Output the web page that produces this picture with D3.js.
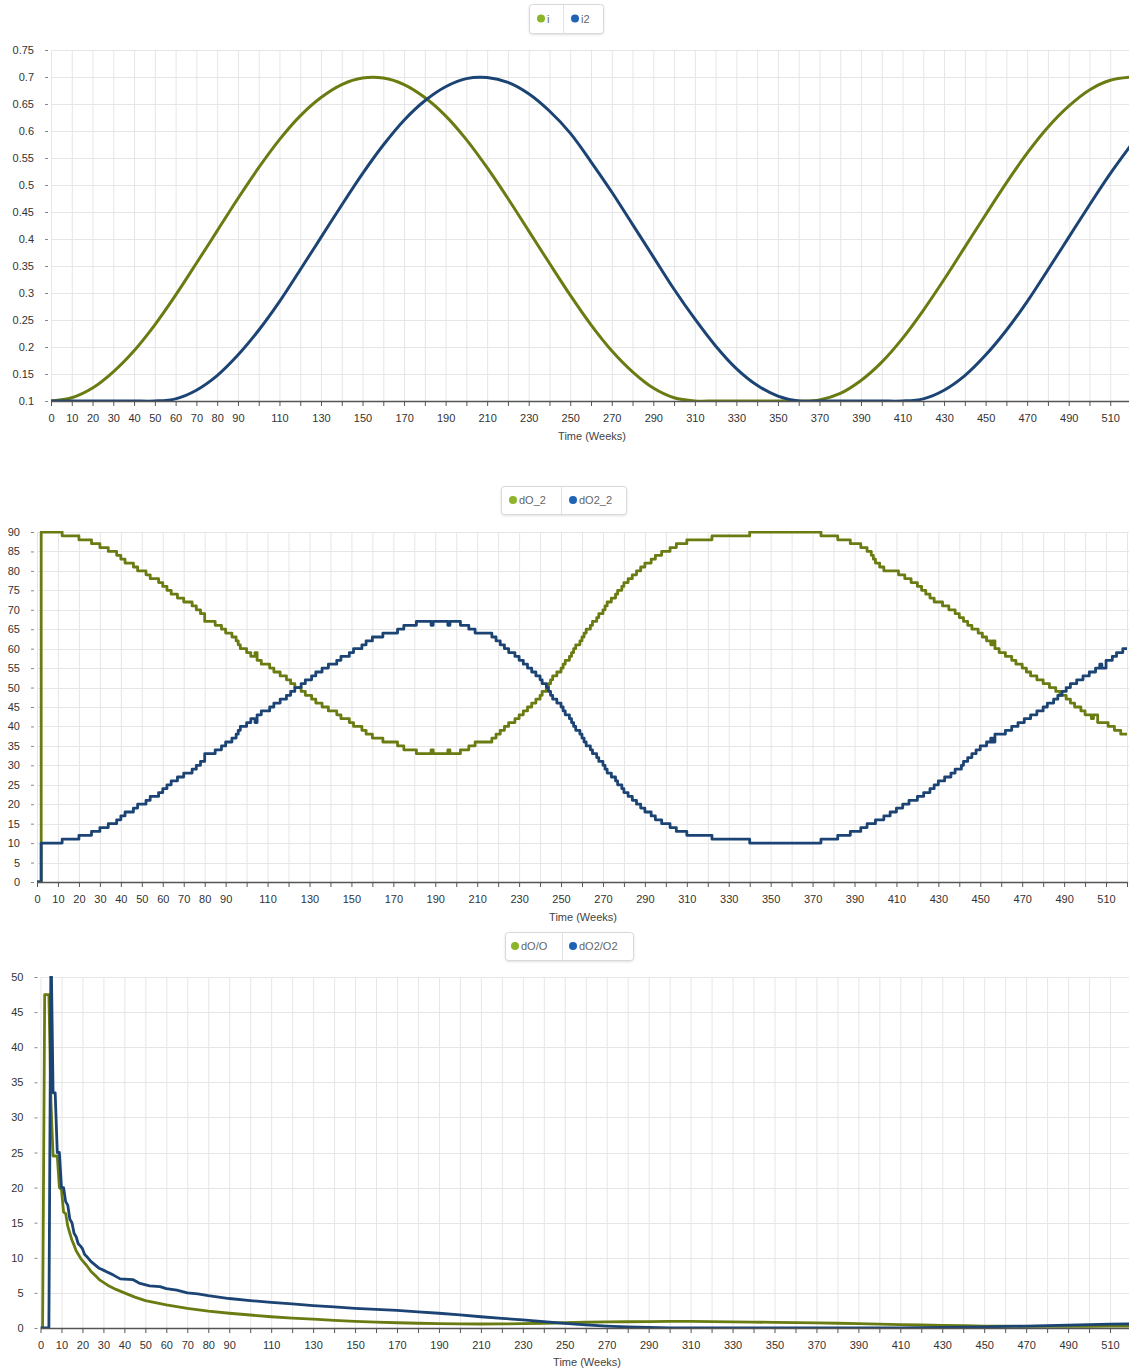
<!DOCTYPE html>
<html>
<head>
<meta charset="utf-8">
<script src="https://cdn.jsdelivr.net/npm/d3@7"></script>
<style>
  body { margin: 0; background: #fff; font-family: "Liberation Sans", Arial, sans-serif; }
  svg { display: block; }
  .grid line { stroke: #e6e6e6; stroke-width: 1; }
  .xaxis path { stroke: #555; stroke-width: 1.5; }
  .xaxis line { stroke: #555; }
  .xaxis text, .yaxis text { fill: #333; font-size: 11px; font-family: "Liberation Sans", Arial, sans-serif; }
  .yaxis line { stroke: #888; }
  .axis-title { fill: #444; font-size: 11px; }
  .legend text { fill: #666; font-size: 11px; }
</style>
</head>
<body>
<svg width="1129" height="1370"></svg>
<script>
// ---- data ----
const weekTicks = d3.range(0, 530, 10);

// chart 1: i and i2, sampled every 10 weeks (0..520)
const sampleWeeks = d3.range(0, 530, 10);
const iValues = [0.1, 0.106, 0.124, 0.154, 0.193, 0.241, 0.296, 0.355, 0.415, 0.475,
  0.532, 0.584, 0.628, 0.662, 0.686, 0.698, 0.698, 0.686, 0.662, 0.628,
  0.584, 0.532, 0.475, 0.415, 0.355, 0.296, 0.241, 0.193, 0.154, 0.124,
  0.106, 0.1, 0.1, 0.1, 0.1, 0.1, 0.1, 0.102, 0.114, 0.138,
  0.172, 0.216, 0.268, 0.325, 0.385, 0.445, 0.504, 0.559, 0.607, 0.646,
  0.676, 0.694, 0.7];
const i2Values = [0.1, 0.1, 0.1, 0.1, 0.1, 0.1, 0.104, 0.120, 0.147, 0.185,
  0.231, 0.284, 0.343, 0.403, 0.463, 0.521, 0.574, 0.620, 0.656, 0.682,
  0.697, 0.699, 0.690, 0.669, 0.637, 0.596, 0.543, 0.487, 0.427, 0.367,
  0.307, 0.252, 0.202, 0.160, 0.129, 0.109, 0.100, 0.1, 0.1, 0.1,
  0.1, 0.1, 0.104, 0.120, 0.147, 0.185, 0.231, 0.284, 0.343, 0.403,
  0.463, 0.521, 0.574];
const yTicks1 = [0.1, 0.15, 0.2, 0.25, 0.3, 0.35, 0.4, 0.45, 0.5, 0.55, 0.6, 0.65, 0.7, 0.75];

// chart 2: dO_2 and dO2_2, [week, value] at each step change
const dO2Steps = [[0,0],[2,90],[12,89],[20,88],[26,87],[30,86],[34,85],[38,84],[40,83],[42,82],[46,81],[48,80],
  [52,79],[54,78],[58,77],[60,76],[62,75],[64,74],[67,73],[70,72],[74,71],[76,70],[78,69],[80,67],[85,66],
  [88,65],[90,64],[93,63],[95,62],[96,61],[97,60],[100,59],[102,58],[104,59],[105,57],[107,56],[111,55],
  [113,54],[116,53],[119,52],[121,51],[123,50],[126,49],[128,48],[131,47],[133,46],[136,45],[139,44],
  [143,43],[145,42],[149,41],[151,40],[155,39],[157,38],[160,37],[165,36],[172,35],[175,34],[181,33],
  [188,34],[189,33],[196,34],[197,33],[202,34],[206,35],[209,36],[217,37],[219,38],[221,39],[223,40],
  [225,41],[228,42],[230,43],[232,44],[234,45],[236,46],[238,47],[240,48],[241,49],[243,50],[244,51],
  [245,52],[246,53],[248,54],[250,55],[251,56],[252,57],[254,58],[255,59],[256,60],[257,61],[259,62],
  [260,63],[261,64],[262,65],[264,66],[265,67],[267,68],[268,69],[270,70],[271,71],[272,72],[274,73],
  [276,74],[277,75],[279,76],[280,77],[282,78],[284,79],[286,80],[288,81],[290,82],[293,83],[295,84],
  [298,85],[302,86],[305,87],[310,88],[322,89],[340,90],[374,89],[382,88],[388,87],[393,86],[396,85],
  [398,84],[399,83],[400,82],[402,81],[404,80],[411,79],[414,78],[417,77],[420,76],[422,75],[424,74],
  [426,73],[428,72],[432,71],[435,70],[438,69],[440,68],[442,67],[444,66],[446,65],[449,64],[451,63],
  [453,62],[455,61],[456,62],[457,60],[459,59],[462,58],[465,57],[467,56],[470,55],[472,54],[474,53],
  [477,52],[480,51],[483,50],[486,49],[488,48],[491,47],[493,46],[495,45],[498,44],[500,43],[503,42],
  [504,43],[506,41],[511,40],[514,39],[517,38],[520,38]];
const dO22Steps = [[0,0],[2,10],[12,11],[20,12],[26,13],[30,14],[34,15],[38,16],[40,17],[42,18],[46,19],[48,20],
  [52,21],[54,22],[58,23],[60,24],[62,25],[64,26],[67,27],[70,28],[74,29],[76,30],[78,31],[80,33],[85,34],
  [88,35],[90,36],[93,37],[95,38],[96,39],[97,40],[100,41],[102,42],[104,41],[105,43],[107,44],[111,45],
  [113,46],[116,47],[119,48],[121,49],[123,50],[126,51],[128,52],[131,53],[133,54],[136,55],[139,56],
  [143,57],[145,58],[149,59],[151,60],[155,61],[157,62],[160,63],[165,64],[172,65],[175,66],[181,67],
  [188,66],[189,67],[196,66],[197,67],[202,66],[206,65],[209,64],[217,63],[219,62],[221,61],[223,60],
  [225,59],[228,58],[230,57],[232,56],[234,55],[236,54],[238,53],[240,52],[241,51],[243,50],[244,49],
  [245,48],[246,47],[248,46],[250,45],[251,44],[252,43],[254,42],[255,41],[256,40],[257,39],[259,38],
  [260,37],[261,36],[262,35],[264,34],[265,33],[267,32],[268,31],[270,30],[271,29],[272,28],[274,27],
  [276,26],[277,25],[279,24],[280,23],[282,22],[284,21],[286,20],[288,19],[290,18],[293,17],[295,16],
  [298,15],[302,14],[305,13],[310,12],[322,11],[340,10],[374,11],[382,12],[388,13],[393,14],[396,15],
  [400,16],[404,17],[407,18],[410,19],[413,20],[416,21],[420,22],[423,23],[426,24],[428,25],[430,26],
  [433,27],[436,28],[438,29],[441,30],[442,31],[444,32],[446,33],[448,34],[450,35],[453,36],[455,37],
  [456,36],[457,38],[462,39],[465,40],[468,41],[471,42],[474,43],[477,44],[480,45],[482,46],[485,47],
  [487,48],[489,49],[491,50],[493,51],[496,52],[499,53],[502,54],[505,55],[507,56],[508,55],[510,57],
  [513,58],[515,59],[518,60],[520,60]];
const yTicks2 = d3.range(0, 95, 5);

// chart 3: dO/O and dO2/O2, [week, value]
const dOoPoints = [[0,0],[1,0],[2,47.5],[3,47.5],[4,47.5],[5,32],[6,24.5],[7,24.5],[8,24.5],[9,20],[10,19.7],
  [11,16.5],[12,16.3],[13,14.5],[14,13.5],[15,12.5],[16,11.8],[17,11],[18,10.5],[19,10],[20,9.6],[22,8.9],
  [24,8.1],[26,7.5],[28,6.9],[32,6.1],[36,5.5],[40,5.0],[45,4.4],[50,3.9],[60,3.3],[70,2.8],[80,2.4],
  [90,2.1],[100,1.85],[110,1.6],[120,1.4],[130,1.25],[140,1.1],[150,0.95],[160,0.85],[170,0.75],[180,0.68],
  [190,0.62],[200,0.58],[210,0.57],[220,0.58],[230,0.62],[240,0.68],[250,0.75],[260,0.82],[270,0.86],
  [280,0.89],[290,0.92],[300,0.93],[310,0.93],[320,0.9],[330,0.87],[340,0.84],[350,0.8],[360,0.77],
  [370,0.73],[380,0.68],[390,0.62],[400,0.55],[410,0.49],[420,0.43],[430,0.37],[440,0.32],[450,0.28],
  [460,0.25],[470,0.24],[480,0.23],[490,0.24],[500,0.25],[510,0.27],[520,0.29]];
const dO2o2Points = [[0,0],[4,0],[5,55],[6,33.5],[7,33.5],[8,25],[9,25],[10,20],[11,20],[12,18],[13,17.5],
  [14,15.5],[15,15],[16,13.5],[17,13],[18,12],[19,11.7],[20,11.3],[21,10.5],[22,10.2],[24,9.5],[26,9],
  [28,8.5],[31,8.1],[35,7.5],[38,7.0],[44,6.9],[47,6.4],[52,6.0],[57,5.9],[60,5.6],[65,5.4],[70,5.0],
  [75,4.85],[80,4.6],[90,4.2],[100,3.9],[110,3.65],[120,3.45],[130,3.2],[140,3.0],[150,2.8],[160,2.65],
  [170,2.5],[180,2.3],[190,2.1],[200,1.87],[210,1.6],[220,1.38],[230,1.15],[240,0.9],[250,0.67],
  [260,0.45],[270,0.28],[280,0.15],[290,0.07],[300,0.03],[310,0.02],[400,0.02],[410,0.03],[420,0.05],
  [430,0.08],[440,0.12],[450,0.16],[460,0.22],[470,0.28],[480,0.34],[490,0.4],[500,0.47],[510,0.54],[520,0.6]];
const yTicks3 = d3.range(0, 55, 5);

const GREEN = "#687c12", BLUE = "#1b4474";
const GREEN_DOT = "#8db52a", BLUE_DOT = "#1f63b3";

const svg = d3.select("svg");

// draw one chart panel
function drawChart(cfg, idx) {
  const g = svg.append("g");
  const x = d3.scaleLinear().domain([0, 520]).range([cfg.left, cfg.right]);
  const y = d3.scaleLinear().domain(cfg.yDomain).range([cfg.bottom, cfg.top]);

  // grid
  const grid = g.append("g").attr("class", "grid");
  grid.selectAll(".v").data(weekTicks).enter().append("line")
    .attr("x1", d => x(d) + 0.5).attr("x2", d => x(d) + 0.5)
    .attr("y1", cfg.top).attr("y2", cfg.bottom);
  grid.selectAll(".h").data(cfg.yTicks).enter().append("line")
    .attr("x1", cfg.left).attr("x2", 1129)
    .attr("y1", d => Math.round(y(d)) + 0.5).attr("y2", d => Math.round(y(d)) + 0.5);

  // clip
  svg.append("clipPath").attr("id", "clip" + idx).append("rect")
    .attr("x", cfg.left).attr("y", cfg.top - 1)
    .attr("width", 1129 - cfg.left).attr("height", cfg.bottom - cfg.top + 1);

  // lines
  cfg.series.forEach(s => {
    const line = d3.line().x(d => x(d[0])).y(d => y(d[1])).curve(cfg.curve);
    g.append("path")
      .datum(s.data)
      .attr("clip-path", `url(#clip${idx})`)
      .attr("fill", "none")
      .attr("stroke", s.color)
      .attr("stroke-width", cfg.lineWidth)
      .attr("stroke-linejoin", "round")
      .attr("d", line);
  });

  // x axis
  g.append("g").attr("class", "xaxis")
    .attr("transform", `translate(0,${cfg.bottom})`)
    .call(d3.axisBottom(x).tickValues(weekTicks).tickSize(5).tickSizeOuter(0).tickPadding(8)
      .tickFormat(d => (d < 100 || (d / 10) % 2 === 1) ? d : ""));

  // y axis
  const ya = g.append("g").attr("class", "yaxis")
    .attr("transform", `translate(${cfg.left - 3},0)`)
    .call(d3.axisLeft(y).tickValues(cfg.yTicks).tickSize(3).tickPadding(11)
      .tickFormat(d => +d.toFixed(2)));
  ya.select(".domain").remove();

  // axis title
  g.append("text").attr("class", "axis-title")
    .attr("x", cfg.titleX).attr("y", cfg.titleY)
    .attr("text-anchor", "middle")
    .text("Time (Weeks)");

  // legend
  const lg = g.append("g").attr("class", "legend");
  const L = cfg.legend;
  lg.append("rect")
    .attr("x", L.x + 0.5).attr("y", L.y + 0.5).attr("width", L.w).attr("height", L.h)
    .attr("rx", 3).attr("fill", "#fff").attr("stroke", "#d9d9d9")
    .style("filter", "drop-shadow(0px 1px 1px rgba(0,0,0,0.12))");
  lg.append("line")
    .attr("x1", L.divider + 0.5).attr("x2", L.divider + 0.5)
    .attr("y1", L.y + 1).attr("y2", L.y + L.h)
    .attr("stroke", "#e3e3e3");
  cfg.series.forEach((s, k) => {
    const cx = L.dots[k];
    lg.append("circle").attr("cx", cx).attr("cy", L.y + L.h / 2).attr("r", 4).attr("fill", s.dot);
    lg.append("text").attr("x", cx + 6).attr("y", L.y + L.h / 2 + 4).text(s.name);
  });
}

drawChart({
  left: 51, right: 1131, top: 50, bottom: 401,
  yDomain: [0.1, 0.75], yTicks: yTicks1,
  curve: d3.curveCatmullRom.alpha(0.5), lineWidth: 3,
  titleX: 592, titleY: 440,
  legend: { x: 529, y: 4, w: 74, h: 29, divider: 563, dots: [541, 575] },
  series: [
    { name: "i", color: GREEN, dot: GREEN_DOT, data: sampleWeeks.map((w, k) => [w, iValues[k]]) },
    { name: "i2", color: BLUE, dot: BLUE_DOT, data: sampleWeeks.map((w, k) => [w, i2Values[k]]) }
  ]
}, 1);

drawChart({
  left: 37, right: 1127, top: 532, bottom: 882,
  yDomain: [0, 90], yTicks: yTicks2,
  curve: d3.curveStepAfter, lineWidth: 2.8,
  titleX: 583, titleY: 921,
  legend: { x: 501, y: 486, w: 125, h: 28, divider: 561, dots: [513, 573] },
  series: [
    { name: "dO_2", color: GREEN, dot: GREEN_DOT, data: dO2Steps },
    { name: "dO2_2", color: BLUE, dot: BLUE_DOT, data: dO22Steps }
  ]
}, 2);

drawChart({
  left: 40.5, right: 1131, top: 977, bottom: 1328,
  yDomain: [0, 50], yTicks: yTicks3,
  curve: d3.curveLinear, lineWidth: 2.8,
  titleX: 587, titleY: 1366,
  legend: { x: 505, y: 932, w: 128, h: 28, divider: 562, dots: [515, 573] },
  series: [
    { name: "dO/O", color: GREEN, dot: GREEN_DOT, data: dOoPoints },
    { name: "dO2/O2", color: BLUE, dot: BLUE_DOT, data: dO2o2Points }
  ]
}, 3);
</script>
</body>
</html>
